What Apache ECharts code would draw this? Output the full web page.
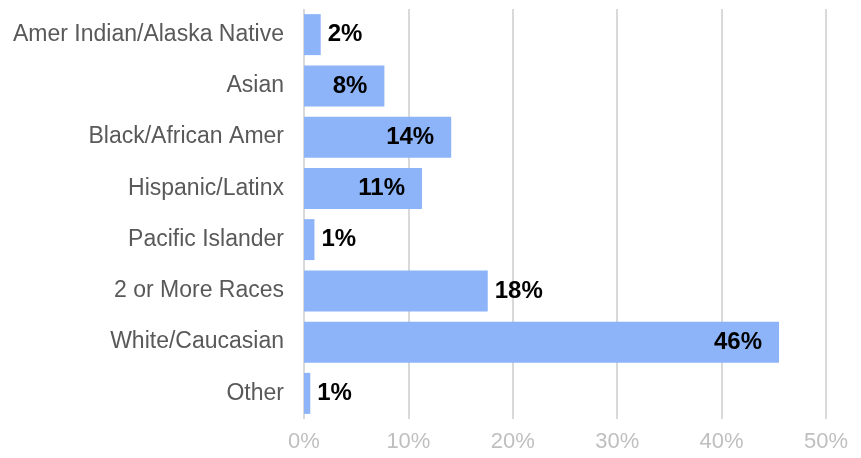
<!DOCTYPE html>
<html>
<head>
<meta charset="utf-8">
<script src="https://cdn.jsdelivr.net/npm/echarts@6/dist/echarts.min.js"></script>
<style>
  html, body { margin: 0; padding: 0; background: #fff; }
  #chart { width: 861px; height: 458px; }
</style>
</head>
<body>
<div id="chart"></div>
<script>
const categories = [
    'Amer Indian/Alaska Native',
    'Asian',
    'Black/African Amer',
    'Hispanic/Latinx',
    'Pacific Islander',
    '2 or More Races',
    'White/Caucasian',
    'Other'
];
const shares = [1.6, 7.7, 14.1, 11.3, 1.0, 17.6, 45.5, 0.6];
const xTicks = [0, 10, 20, 30, 40, 50];

// bars whose label sits inside the bar end
const labelInside = ['Asian', 'Black/African Amer', 'Hispanic/Latinx', 'White/Caucasian'];

const chart = echarts.init(document.getElementById('chart'));

const data = shares.map((v, i) => {
    const inside = labelInside.includes(categories[i]);
    return {
        value: v,
        label: {
            position: inside ? 'insideRight' : 'right',
            distance: inside ? 17 : 7
        }
    };
});

chart.setOption({
    animation: false,
    grid: { left: 304, right: 35, top: 9, bottom: 39, containLabel: false },
    xAxis: {
        type: 'value',
        min: xTicks[0],
        max: xTicks[xTicks.length - 1],
        interval: 10,
        axisLine: { show: false },
        axisTick: { show: false },
        axisLabel: {
            formatter: '{value}%',
            color: '#bfbfbf',
            fontFamily: '"Liberation Sans", Arial',
            fontSize: 22,
            margin: 12
        },
        splitLine: { lineStyle: { color: '#d9d9d9', width: 2 } }
    },
    yAxis: {
        type: 'category',
        data: categories,
        inverse: true,
        axisLine: { show: false },
        axisTick: { show: false },
        axisLabel: {
            color: '#595959',
            fontFamily: '"Liberation Sans", Arial',
            fontSize: 23,
            margin: 20
        }
    },
    series: [{
        type: 'bar',
        data: data,
        barCategoryGap: '20%',
        itemStyle: { color: '#8db4f8' },
        label: {
            show: true,
            formatter: p => Math.round(p.value) + '%',
            color: '#000',
            fontWeight: 'bold',
            fontFamily: '"Liberation Sans", Arial',
            fontSize: 24
        }
    }]
});
</script>
</body>
</html>
